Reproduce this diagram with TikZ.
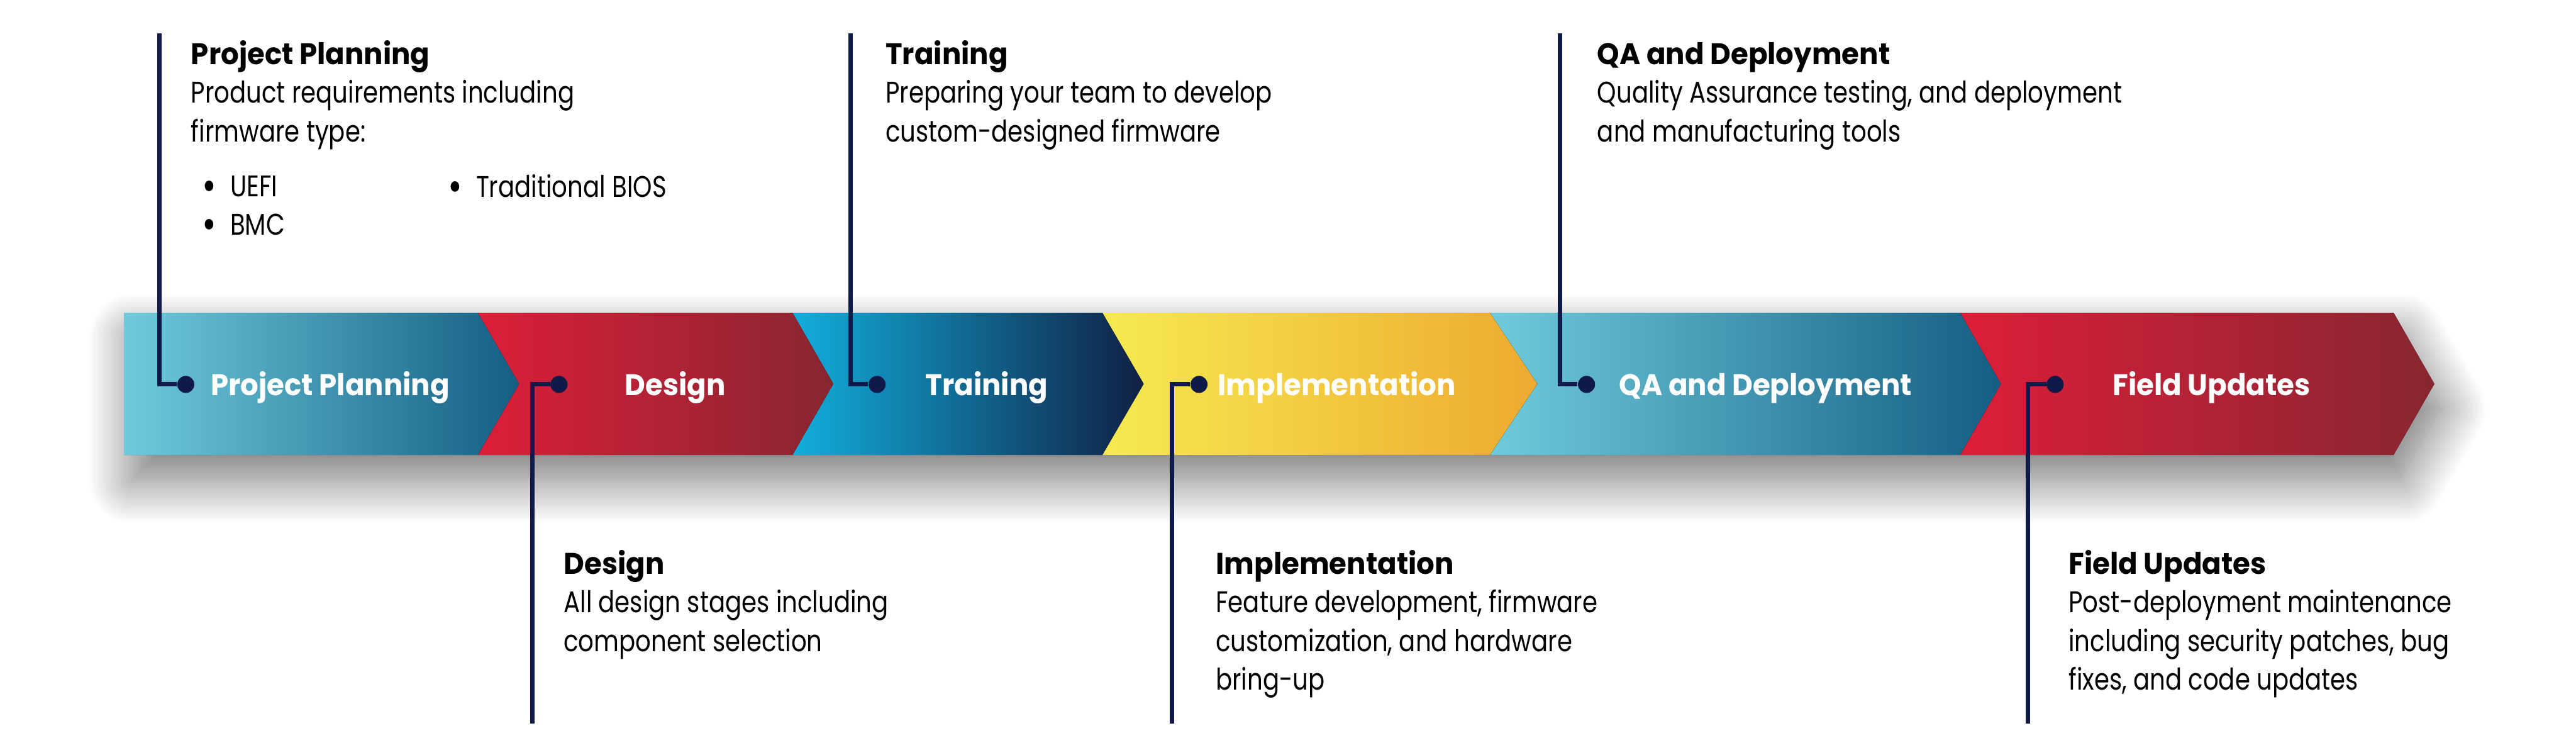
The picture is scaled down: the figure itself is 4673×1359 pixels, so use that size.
\documentclass[tikz,border=0pt]{standalone}
\usepackage{fontspec}
\setmainfont{Poppins}[UprightFeatures={FakeStretch=0.815},BoldFeatures={FakeStretch=0.95}]
\usetikzlibrary{positioning,shadows.blur}
\definecolor{inkblue}{RGB}{16,26,72}
\definecolor{tealL}{RGB}{111,203,220}
\definecolor{tealR}{RGB}{20,94,131}
\definecolor{redL}{RGB}{221,30,58}
\definecolor{redR}{RGB}{135,38,48}
\definecolor{skyL}{RGB}{18,174,220}
\definecolor{navyR}{RGB}{16,32,68}
\definecolor{sunL}{RGB}{246,234,80}
\definecolor{sunR}{RGB}{237,170,48}
\newcommand{\bigdot}{\raisebox{-0.07cm}{\fontsize{22}{19.9}\selectfont\textbullet}}
\tikzset{
  stagedot/.style={circle,fill=inkblue,inner sep=0pt,minimum size=0.31cm},
  leadline/.style={draw=inkblue,line width=0.08cm},
  bandlabel/.style={text=white,anchor=base,inner sep=0pt,font=\bfseries\fontsize{15.4}{19.9}\selectfont},
  desc/.style={anchor=base west,align=left,inner sep=0pt,font=\fontsize{15.4}{19.9}\selectfont},
}

\begin{document}
\begin{tikzpicture}[x=0.01cm,y=-0.01cm]
  \useasboundingbox (0,0) rectangle (4673,1359);
  % Band shadow
  \fill[white,blur shadow={shadow xshift=0.15cm,shadow yshift=-0.45cm,shadow blur radius=0.8cm,
      shadow blur steps=40,shadow opacity=55}]
    (225,567) -- (4342,567) -- (4416,696) -- (4342,825) -- (225,825) -- cycle;
  % Chevrons
  \foreach \xl/\xr/\xt/\xn/\cl/\cr in {225/867/942/225/tealL/tealR,867/1438/1512/942/redL/redR,
      1438/2000/2075/1512/skyL/navyR,2000/2703/2789/2075/sunL/sunR,
      2703/3556/3630/2789/tealL/tealR,3556/4342/4416/3630/redL/redR}{
    \fill[left color=\cl,right color=\cr](\xl,567)--(\xr,567)--(\xt,696)--(\xr,825)--(\xl,825)--(\xn,696)--cycle;
  }
  % Stage labels
  \node[bandlabel] (pplabel) at (599,717) {Project Planning};
  \node[bandlabel] (dslabel) at (1225,717) {Design};
  \node[bandlabel] (trlabel) at (1790,717) {Training};
  \node[bandlabel] (imlabel) at (2425,717) {Implementation};
  \node[bandlabel] (qalabel) at (3203,717) {QA and Deployment};
  \node[bandlabel] (fulabel) at (4012,717) {Field Updates};
  % Dots and leads
  \node[stagedot] (ppdot) at (337,697) {};
  \node[stagedot] (dsdot) at (1014,697) {};
  \node[stagedot] (trdot) at (1591,697) {};
  \node[stagedot] (imdot) at (2175,697) {};
  \node[stagedot] (qadot) at (2878,697) {};
  \node[stagedot] (fudot) at (3728,697) {};
  \coordinate (pptop) at (289,60);
  \coordinate (trtop) at (1543,60);
  \coordinate (qatop) at (2830,60);
  \coordinate (dsend) at (966,1312);
  \coordinate (imend) at (2126,1312);
  \coordinate (fuend) at (3679,1312);
  \foreach \a/\b in {pptop/ppdot,trtop/trdot,qatop/qadot,dsend/dsdot,imend/imdot,fuend/fudot}
    \draw[leadline] (\a) |- (\b);
  % Descriptions (anchored at the baseline of the last line)
  \node[desc] (ppdesc) at (346,257) {\textbf{Project Planning}\\Product requirements including\\firmware type:};
  \node[desc] (ppbullets) at (366,426) {\bigdot\hspace{0.25cm}UEFI\\\bigdot\hspace{0.25cm}BMC};
  \node[desc] (ppbios) at (812,358) {\bigdot\hspace{0.25cm}Traditional BIOS};
  \node[desc] (trdesc) at (1606,257) {\textbf{Training}\\Preparing your team to develop\\custom-designed firmware};
  \node[desc] (qadesc) at (2897,257) {\textbf{QA and Deployment}\\Quality Assurance testing, and deployment\\and manufacturing tools};
  \node[desc] (dsdesc) at (1022,1181) {\textbf{Design}\\All design stages including\\component selection};
  \node[desc] (imdesc) at (2205,1251) {\textbf{Implementation}\\Feature development, firmware\\customization, and hardware\\bring-up};
  \node[desc] (fudesc) at (3752,1251) {\textbf{Field Updates}\\Post-deployment maintenance\\including security patches, bug\\fixes, and code updates};
\end{tikzpicture}
\end{document}
